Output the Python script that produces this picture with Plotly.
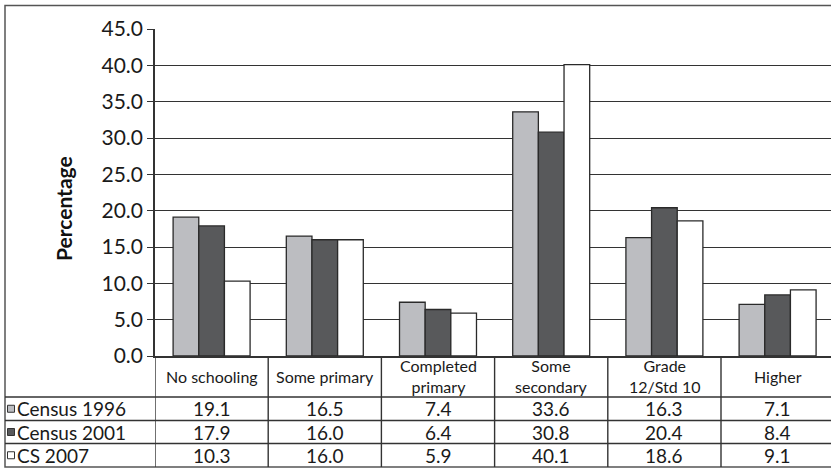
import plotly.graph_objects as go

categories = ["No schooling", "Some primary", "Completed primary", "Some secondary", "Grade 12/Std 10", "Higher"]
header_labels = ["No schooling", "Some primary", "Completed<br>primary", "Some<br>secondary", "Grade<br>12/Std 10", "Higher"]
series_names = ["Census 1996", "Census 2001", "CS 2007"]
census_1996 = [19.1, 16.5, 7.4, 33.6, 16.3, 7.1]
census_2001 = [17.9, 16.0, 6.4, 30.8, 20.4, 8.4]
cs_2007 = [10.3, 16.0, 5.9, 40.1, 18.6, 9.1]
y_ticks = [0, 5, 10, 15, 20, 25, 30, 35, 40, 45]

series_values = [census_1996, census_2001, cs_2007]
colors = ["#bcbdc1", "#58595b", "#ffffff"]

FIG_W, FIG_H = 831, 470
L, T, B = 155, 29, 356
W = FIG_W - L
H = B - T

def px2x(px):
    return (px - L) / W

def py2y(py):
    return (B - py) / H

FONT = "Lato"
LINE = "#333333"
TXT = "#1a1a1a"

fig = go.Figure()
xs = list(range(len(categories)))
for name, vals, col in zip(series_names, series_values, colors):
    fig.add_trace(go.Bar(
        x=xs, y=vals, name=name,
        marker=dict(color=col, line=dict(color="#2a2a2a", width=1.3)),
        showlegend=False, hoverinfo="skip",
    ))

shapes = []
annotations = []

# outer border
shapes.append(dict(type="rect", xref="paper", yref="paper",
                   x0=px2x(5), x1=px2x(FIG_W + 20), y0=py2y(467), y1=py2y(5.5),
                   line=dict(color="#555555", width=1.5), layer="below"))

row_lines = [397, 420.5, 443.5]
for yl in row_lines:
    shapes.append(dict(type="line", xref="paper", yref="paper",
                       x0=px2x(5), x1=px2x(FIG_W + 20), y0=py2y(yl), y1=py2y(yl),
                       line=dict(color=LINE, width=1.4)))

# vertical table lines (y-axis extension + category boundaries)
for k in range(len(categories)):
    shapes.append(dict(type="line", xref="x", yref="paper",
                       x0=k - 0.5, x1=k - 0.5, y0=py2y(356), y1=py2y(467),
                       line=dict(color=LINE, width=1.4)))

# header labels
for i, lab in enumerate(header_labels):
    annotations.append(dict(xref="x", yref="paper", x=i, y=py2y(376.5),
                            text=lab, showarrow=False, xanchor="center", yanchor="middle",
                            font=dict(family=FONT, size=16, color=TXT)))

row_centers = [408.75, 432, 455.25]
for r, (name, vals, col) in enumerate(zip(series_names, series_values, colors)):
    cy = row_centers[r]
    shapes.append(dict(type="rect", xref="paper", yref="paper",
                       x0=px2x(7.5), x1=px2x(14.5), y0=py2y(cy + 3.5), y1=py2y(cy - 3.5),
                       fillcolor=col, line=dict(color="#333333", width=1)))
    annotations.append(dict(xref="paper", yref="paper", x=px2x(16), y=py2y(cy),
                            text=name, showarrow=False, xanchor="left", yanchor="middle",
                            borderpad=0,
                            font=dict(family=FONT, size=19, color=TXT)))
    for i, v in enumerate(vals):
        annotations.append(dict(xref="x", yref="paper", x=i, y=py2y(cy),
                                text=f"{v:.1f}", showarrow=False, xanchor="center", yanchor="middle",
                                borderpad=0,
                                font=dict(family=FONT, size=19, color=TXT)))

# y-axis title
annotations.append(dict(xref="paper", yref="paper", x=px2x(63), y=py2y(209),
                        text="<b>Percentage</b>", showarrow=False, textangle=-90,
                        xanchor="center", yanchor="middle",
                        font=dict(family=FONT, size=21, color="#111111")))

x_end = -0.5 + W / 113.2

fig.update_layout(
    width=FIG_W, height=FIG_H,
    margin=dict(l=L, r=0, t=T, b=FIG_H - B, pad=0),
    paper_bgcolor="white", plot_bgcolor="white",
    barmode="group", bargap=0.32, bargroupgap=0,
    shapes=shapes, annotations=annotations,
    font=dict(family=FONT, color=TXT),
    xaxis=dict(range=[-0.5, x_end], showticklabels=False, ticks="",
               showgrid=False, zeroline=False, showline=True,
               linecolor=LINE, linewidth=1.6, fixedrange=True),
    yaxis=dict(range=[0, 45], tickvals=y_ticks, tickformat=".1f",
               ticks="outside", ticklen=6, tickcolor=LINE, tickwidth=1.4,
               showgrid=True, gridcolor=LINE, gridwidth=1.4,
               zeroline=False, showline=True, linecolor=LINE, linewidth=1.6,
               tickfont=dict(family=FONT, size=21, color=TXT), fixedrange=True),
)

fig.write_html("out.html", config={"displayModeBar": False},
               post_script="document.body.style.margin='0';document.body.style.overflow='hidden';")
